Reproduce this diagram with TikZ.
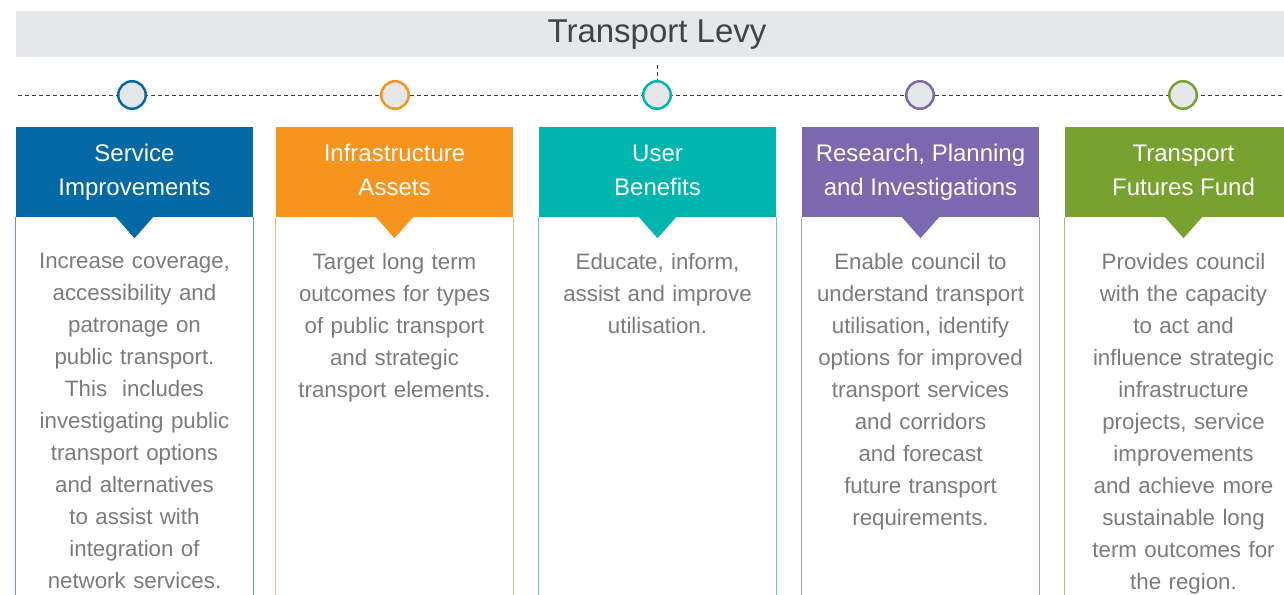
\documentclass[tikz,border=0pt]{standalone}
\usepackage{fontspec}
\setmainfont{Liberation Sans}
\usetikzlibrary{positioning}
\definecolor{svcblue}{HTML}{0569A6}
\definecolor{infraorange}{HTML}{F7941D}
\definecolor{userteal}{HTML}{00B5AD}
\definecolor{rschpurple}{HTML}{7B68AE}
\definecolor{fundgreen}{HTML}{78A22F}
\definecolor{bargray}{HTML}{E6E7E8}
\definecolor{titlegray}{HTML}{41424A}
\definecolor{bodygray}{HTML}{7A7B7F}
\definecolor{linegray}{HTML}{3A3B40}
\begin{document}
\begin{tikzpicture}[x=1pt,y=-1pt,
  head/.style={fill=#1, text=white, minimum width=237pt, minimum height=90pt, inner sep=0pt, align=center, font=\fontsize{24}{34}\selectfont},
  pointer/.style={fill=#1},
  side/.style={draw=#1!65, line width=1pt},
  dot/.style={circle, draw=#1, fill=bargray, line width=2.5pt, minimum size=27.5pt, inner sep=0pt},
  bodytext/.style={text=bodygray, text width=236pt, align=center, inner sep=0pt, font=\fontsize{22.3}{32}\selectfont},
  dashline/.style={draw=linegray, line width=0.9pt, dash pattern=on 4pt off 3pt}]
\useasboundingbox (0,0) rectangle (1284,594);
\clip (0,0) rectangle (1284,594);
% title bar
\fill[bargray] (16,11) rectangle (1300,57);
\node [text=titlegray, font=\fontsize{33}{38}\selectfont] (title) at (657,35) {Transport Levy};
% timeline
\coordinate (lstart) at (18,95);
\coordinate (lend) at (1290,95);
\draw[dashline] (lstart) -- (lend);
\node [dot=svcblue] (svcdot) at (132,95) {};
\node [dot=infraorange] (infradot) at (395,95) {};
\node [dot=userteal] (userdot) at (657,95) {};
\node [dot=rschpurple] (rschdot) at (920,95) {};
\node [dot=fundgreen] (funddot) at (1183,95) {};
\draw[dashline] (title.south |- 0,65) -- (userdot.north);
% headers
\node [head=svcblue] (svchead) at (134.5,172) {Service\strut\\Improvements\strut};
\node [head=infraorange] (infrahead) at (394.5,172) {Infrastructure\strut\\Assets\strut};
\node [head=userteal] (userhead) at (657.5,172) {User\strut\\Benefits\strut};
\node [head=rschpurple] (rschhead) at (920.5,172) {Research, Planning\strut\\and Investigations\strut};
\node [head=fundgreen] (fundhead) at (1183.5,172) {Transport\strut\\Futures Fund\strut};
% pointers
\fill[pointer=svcblue] (svchead.south) ++(-19,-0.5) -- ++(38,0) -- ++(-19,21.5) -- cycle;
\fill[pointer=infraorange] (infrahead.south) ++(-19,-0.5) -- ++(38,0) -- ++(-19,21.5) -- cycle;
\fill[pointer=userteal] (userhead.south) ++(-19,-0.5) -- ++(38,0) -- ++(-19,21.5) -- cycle;
\fill[pointer=rschpurple] (rschhead.south) ++(-19,-0.5) -- ++(38,0) -- ++(-19,21.5) -- cycle;
\fill[pointer=fundgreen] (fundhead.south) ++(-19,-0.5) -- ++(38,0) -- ++(-19,21.5) -- cycle;
% side lines
\draw[side=svcblue] (svchead.south west) -- ++(0,400) -| (svchead.south east);
\draw[side=infraorange] (infrahead.south west) -- ++(0,400) -| (infrahead.south east);
\draw[side=userteal] (userhead.south west) -- ++(0,400) -| (userhead.south east);
\draw[side=rschpurple] (rschhead.south west) -- ++(0,400) -| (rschhead.south east);
\draw[side=fundgreen] (fundhead.south west) -- ++(0,400) -| (fundhead.south east);
% texts
\node [bodytext, below=35.5pt of svchead] (svctext) {Increase coverage,\\accessibility and\\patronage on\\public transport.\\This\ \ includes\\investigating public\\transport options\\and alternatives\\to assist with\\integration of\\network services.};
\node [bodytext, below=35.5pt of infrahead] (infratext) {Target long term\\outcomes for types\\of\ public transport\\and strategic\\transport elements.};
\node [bodytext, below=35.5pt of userhead] (usertext) {Educate, inform,\\assist and improve\\utilisation.};
\node [bodytext, below=35.5pt of rschhead] (rschtext) {Enable council to\\understand transport\\utilisation, identify\\options for improved\\transport services\\and corridors\\and forecast\\future transport\\requirements.};
\node [bodytext, below=35.5pt of fundhead] (fundtext) {Provides council\\with the capacity\\to act and\\influence strategic\\infrastructure\\projects, service\\improvements\\and achieve more\\sustainable long\\term outcomes for\\the region.};
\end{tikzpicture}
\end{document}
